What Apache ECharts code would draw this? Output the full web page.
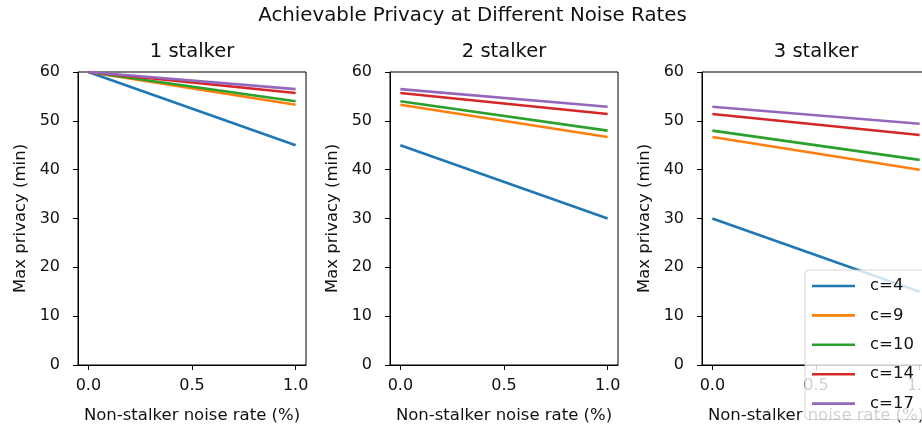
<!DOCTYPE html>
<html><head><meta charset="utf-8">
<script src="https://cdn.jsdelivr.net/npm/echarts@6/dist/echarts.min.js"></script>
<style>html,body{margin:0;padding:0;background:#fff}#c{width:922px;height:430px}</style>
</head><body><div id="c"></div>
<script>
const noiseRates = [0, 1];
const seriesNames = ['c=4', 'c=9', 'c=10', 'c=14', 'c=17'];
const colors = ['#1f77b4', '#ff7f0e', '#2ca02c', '#d62728', '#9467bd'];
const panelTitles = ['1 stalker', '2 stalker', '3 stalker'];
const oneStalker = [[60, 45], [60, 53.3], [60, 54], [60, 55.7], [60, 56.5]];
const twoStalker = [[45, 30], [53.3, 46.7], [54, 48], [55.7, 51.4], [56.5, 52.9]];
const threeStalker = [[30, 15], [46.7, 40], [48, 42], [51.4, 47.1], [52.9, 49.4]];
const xTicks = [0, 0.5, 1.0];
const mainTitle = 'Achievable Privacy at Different Noise Rates';
const xName = 'Non-stalker noise rate (%)';
const yName = 'Max privacy (min)';

const panels = [oneStalker, twoStalker, threeStalker];
const FONT = '"DejaVu Sans"';
const gridLefts = [78, 390, 702];
const gridTop = 72, gridW = 228, gridH = 293;

const grids = [], xAxes = [], yAxes = [], series = [], graphics = [];
panels.forEach((vals, p) => {
  grids.push({left: gridLefts[p], top: gridTop, width: gridW, height: gridH,
    outerBoundsMode: 'none',
    show: true, borderColor: '#000', borderWidth: 1, backgroundColor: 'transparent', containLabel: false});
  xAxes.push({type: 'value', gridIndex: p, min: -0.05, max: 1.05,
    name: xName, nameLocation: 'middle', nameGap: 42,
    nameTextStyle: {fontSize: 16.5, color: '#111', fontFamily: FONT},
    axisLine: {show: true, onZero: false, lineStyle: {color: '#000', width: 1}},
    axisTick: {show: true, inside: false, length: 5, lineStyle: {color: '#000', width: 1}, customValues: xTicks},
    axisLabel: {show: true, margin: 13, fontSize: 16, color: '#111', fontFamily: FONT,
      customValues: xTicks, formatter: v => Number(v).toFixed(1)},
    splitLine: {show: false}});
  yAxes.push({type: 'value', gridIndex: p, min: 0, max: 60, interval: 10,
    name: yName, nameLocation: 'middle', nameGap: 49, nameRotate: 90,
    nameTextStyle: {fontSize: 16.5, color: '#111', fontFamily: FONT},
    axisLine: {show: true, onZero: false, lineStyle: {color: '#000', width: 1}},
    axisTick: {show: true, inside: false, length: 5, lineStyle: {color: '#000', width: 1}},
    axisLabel: {show: true, margin: 18, fontSize: 16, color: '#111', fontFamily: FONT},
    splitLine: {show: false}});
  vals.forEach((ys, i) => {
    series.push({type: 'line', name: seriesNames[i], xAxisIndex: p, yAxisIndex: p,
      data: noiseRates.map((x, k) => [x, ys[k]]),
      showSymbol: false, symbol: 'none', clip: true,
      lineStyle: {width: 2.6, color: colors[i]}, itemStyle: {color: colors[i]},
      emphasis: {disabled: true}, z: 2});
  });
  graphics.push({type: 'text', x: gridLefts[p] + gridW / 2, y: 52,
    style: {text: panelTitles[p], fontSize: 19.5, fontFamily: FONT, fill: '#111', align: 'center', verticalAlign: 'middle'}});
});
graphics.push({type: 'text', x: 472.5, y: 16,
  style: {text: mainTitle, fontSize: 19.8, fontFamily: FONT, fill: '#111', align: 'center', verticalAlign: 'middle'}});

const chart = echarts.init(document.getElementById('c'), null, {renderer: 'canvas'});
chart.setOption({
  animation: false,
  backgroundColor: '#fff',
  color: colors,
  grid: grids, xAxis: xAxes, yAxis: yAxes, series: series,
  graphic: graphics,
  legend: {
    data: seriesNames, orient: 'vertical', left: 805, top: 270,
    padding: [6, 40, 6, 7], itemGap: 9.4, itemWidth: 43, itemHeight: 2.6, icon: 'rect',
    backgroundColor: 'rgba(255,255,255,0.8)', borderColor: 'rgba(204,204,204,0.8)', borderWidth: 1, borderRadius: 4,
    textStyle: {fontSize: 16.5, lineHeight: 20, color: '#111', fontFamily: FONT, padding: [0, 0, 0, 10]},
    selectedMode: false, z: 10
  }
});
</script></body></html>
